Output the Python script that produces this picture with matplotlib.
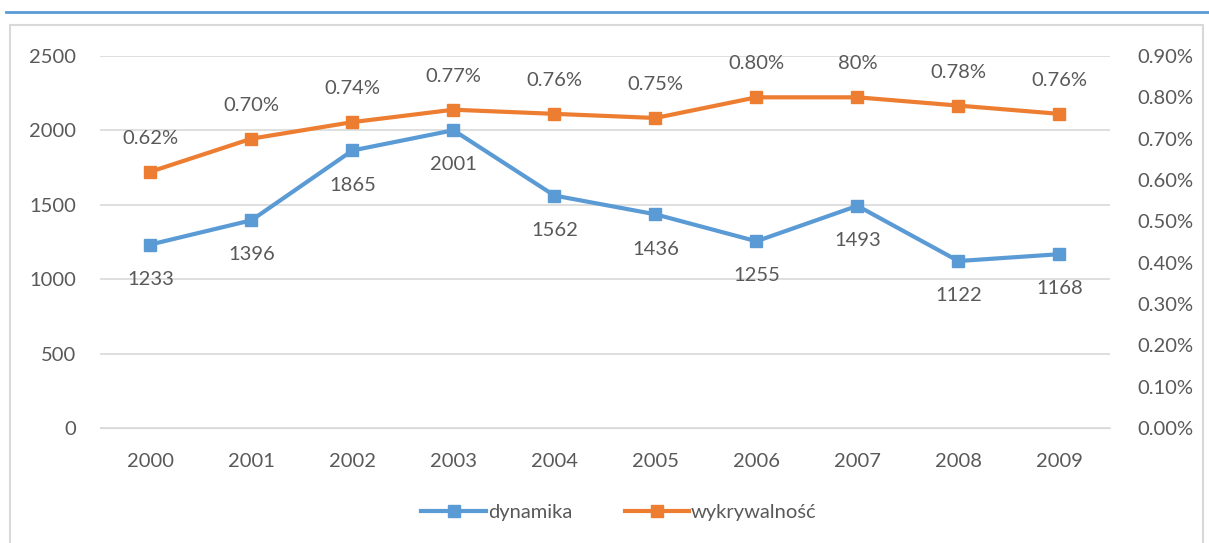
import matplotlib.pyplot as plt
from matplotlib.lines import Line2D
from matplotlib.patches import Rectangle
from matplotlib.ticker import FuncFormatter, MultipleLocator

plt.rcParams["font.family"] = ["Lato", "DejaVu Sans"]

years = ["2000", "2001", "2002", "2003", "2004", "2005", "2006", "2007", "2008", "2009"]
dynamika = [1233, 1396, 1865, 2001, 1562, 1436, 1255, 1493, 1122, 1168]
wykrywalnosc = [0.62, 0.70, 0.74, 0.77, 0.76, 0.75, 0.80, 0.80, 0.78, 0.76]
wyk_labels = ["0.62%", "0.70%", "0.74%", "0.77%", "0.76%", "0.75%", "0.80%", "80%", "0.78%", "0.76%"]

blue = "#5B9BD5"
orange = "#ED7D31"
txt = "#595959"
fs = 14.5

fig = plt.figure(figsize=(12.09, 5.43), dpi=100)
ax = fig.add_axes([0.0827, 0.2118, 0.8353, 0.6851])
ax2 = ax.twinx()

x = range(len(years))
ax.plot(x, dynamika, color=blue, lw=3, marker="s", ms=9, zorder=3)
ax2.plot(x, wykrywalnosc, color=orange, lw=3, marker="s", ms=9, zorder=3)

for i, v in enumerate(dynamika):
    ax.annotate(str(v), (i, v), xytext=(0, -25), textcoords="offset points",
                ha="center", va="center", fontsize=fs, color=txt)
for i, v in enumerate(wykrywalnosc):
    ax2.annotate(wyk_labels[i], (i, v), xytext=(0, 24), textcoords="offset points",
                 ha="center", va="center", fontsize=fs, color=txt)

ax.set_xlim(-0.5, len(years) - 0.5)
ax.set_ylim(0, 2500)
ax2.set_ylim(0, 0.9)
ax.yaxis.set_major_locator(MultipleLocator(500))
ax2.yaxis.set_major_locator(MultipleLocator(0.1))
ax2.yaxis.set_major_formatter(FuncFormatter(lambda v, p: f"{v:.2f}%"))
ax.set_xticks(list(x))
ax.set_xticklabels(years)

ax.grid(axis="y", color="#d9d9d9", lw=1.2)
ax.set_axisbelow(True)
for a in (ax, ax2):
    for s in a.spines.values():
        s.set_visible(False)
    a.tick_params(length=0, labelsize=fs, labelcolor=txt)
ax.spines["bottom"].set_visible(True)
ax.spines["bottom"].set_color("#d9d9d9")
ax.tick_params(axis="x", pad=18)
ax.tick_params(axis="y", pad=17)
ax2.tick_params(axis="y", pad=20)

handles = [Line2D([], [], color=blue, lw=3, marker="s", ms=9),
           Line2D([], [], color=orange, lw=3, marker="s", ms=9)]
fig.legend(handles, ["dynamika", "wykrywalność"], loc="center", bbox_to_anchor=(0.512, 0.057),
           ncol=2, frameon=False, fontsize=fs, labelcolor=txt, handlelength=3.2,
           handletextpad=0.1, columnspacing=2.6)

# outer chart frame and top rule
fig.patches.append(Rectangle((10 / 1209, -0.1), 1193 / 1209, 1.1 - 25 / 543,
                             transform=fig.transFigure, fill=False, ec="#d9d9d9", lw=1.5))
fig.lines.append(Line2D([6 / 1209, 1], [1 - 12 / 543] * 2, transform=fig.transFigure,
                        color=blue, lw=2))

plt.savefig("out.png", dpi=100)
